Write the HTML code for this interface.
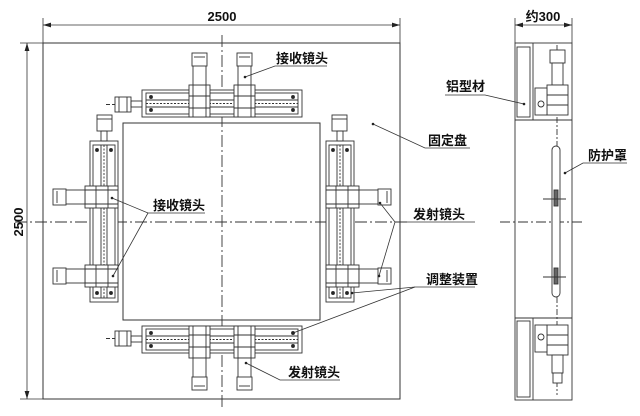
<!DOCTYPE html>
<html><head><meta charset="utf-8"><style>
html,body{margin:0;padding:0;background:#fff;width:640px;height:416px;overflow:hidden;}
svg{display:block;}
text{font-family:"Liberation Sans","Noto Sans CJK SC",sans-serif;font-weight:bold;font-size:13px;fill:#111;}
</style></head><body>
<svg width="640" height="416" viewBox="0 0 640 416" xmlns="http://www.w3.org/2000/svg">
<defs>
<marker id="ar" viewBox="0 0 10 6" refX="10" refY="3" markerWidth="10" markerHeight="6" orient="auto-start-reverse"><path d="M0,0 L10,3 L0,6z" fill="#222"/></marker>
<g id="lensH" fill="#fff" stroke="#333" stroke-width="0.9">
<rect x="0" y="-5" width="21" height="32"/>
<line x1="4" y1="-5" x2="4" y2="27"/><line x1="17" y1="-5" x2="17" y2="27"/>
<line x1="0" y1="6" x2="21" y2="6"/><line x1="0" y1="18" x2="21" y2="18"/>
<rect x="4" y="-25" width="13" height="20"/>
<rect x="3" y="-37" width="15" height="13"/>
<line x1="5" y1="-33" x2="16" y2="-33"/>
</g>
<g id="railH" stroke="#333" stroke-width="0.9" fill="none">
<rect x="0" y="0" width="160" height="27" fill="#fff"/>
<rect x="4" y="3" width="152" height="21"/>
<line x1="4" y1="10" x2="156" y2="10"/><line x1="4" y1="17" x2="156" y2="17"/>
<line x1="4" y1="13.5" x2="156" y2="13.5" stroke-dasharray="2 1.5"/>
<circle cx="9" cy="7" r="1.5" fill="#222"/><circle cx="9" cy="20" r="1.5" fill="#222"/>
<circle cx="151" cy="7" r="1.5" fill="#222"/><circle cx="151" cy="20" r="1.5" fill="#222"/>
<rect x="-27" y="7" width="16" height="15" fill="#fff"/>
<line x1="-23" y1="7" x2="-23" y2="22"/><line x1="-15" y1="7" x2="-15" y2="22"/>
<rect x="-11" y="11" width="11" height="6"/>
<line x1="-36" y1="14.5" x2="-27" y2="14.5" stroke-dasharray="4 2"/>
<use href="#lensH" x="47" y="0"/>
<use href="#lensH" x="92" y="0"/>
</g>
<g id="lensV" fill="#fff" stroke="#333" stroke-width="0.9">
<rect x="-5" y="0" width="33" height="22"/>
<line x1="-5" y1="4" x2="28" y2="4"/><line x1="-5" y1="18" x2="28" y2="18"/>
<line x1="6" y1="0" x2="6" y2="22"/><line x1="18" y1="0" x2="18" y2="22"/>
<rect x="-25" y="4" width="20" height="14"/>
<rect x="-37" y="3" width="13" height="16"/>
<line x1="-33" y1="5" x2="-33" y2="17"/>
</g>
<g id="railV" stroke="#333" stroke-width="0.9" fill="none">
<rect x="0" y="0" width="28" height="161" fill="#fff"/>
<rect x="3" y="4" width="22" height="153"/>
<line x1="11" y1="4" x2="11" y2="157"/><line x1="17" y1="4" x2="17" y2="157"/>
<line x1="14" y1="4" x2="14" y2="157" stroke-dasharray="2 1.5"/>
<circle cx="7" cy="9" r="1.5" fill="#222"/><circle cx="21" cy="9" r="1.5" fill="#222"/>
<circle cx="7" cy="152" r="1.5" fill="#222"/><circle cx="21" cy="152" r="1.5" fill="#222"/>
<rect x="7" y="-26" width="15" height="16" fill="#fff"/>
<line x1="7" y1="-22" x2="22" y2="-22"/>
<rect x="11" y="-10" width="6" height="10"/>
<use href="#lensV" x="0" y="45"/>
<use href="#lensV" x="0" y="124"/>
</g>
</defs>

<!-- main board -->
<rect x="43" y="43" width="357" height="356" fill="none" stroke="#333" stroke-width="1"/>
<rect x="123" y="123" width="197" height="197" fill="none" stroke="#333" stroke-width="1"/>
<line x1="222" y1="35" x2="222" y2="410" stroke="#333" stroke-width="0.9" stroke-dasharray="12 3 2 3"/>
<line x1="15" y1="222" x2="410" y2="222" stroke="#333" stroke-width="0.9" stroke-dasharray="12 3 2 3"/>

<use href="#railH" transform="translate(142,90)"/>
<use href="#railH" transform="translate(142,353) scale(1,-1)"/>
<use href="#railV" transform="translate(90,141)"/>
<use href="#railV" transform="translate(354,141) scale(-1,1)"/>

<!-- dimensions -->
<g stroke="#333" stroke-width="0.8">
<line x1="43" y1="18" x2="43" y2="43"/><line x1="400" y1="18" x2="400" y2="43"/>
<line x1="43" y1="25" x2="400" y2="25" marker-start="url(#ar)" marker-end="url(#ar)"/>
<line x1="20" y1="43" x2="43" y2="43"/><line x1="20" y1="399" x2="43" y2="399"/>
<line x1="27" y1="43" x2="27" y2="399" marker-start="url(#ar)" marker-end="url(#ar)"/>
<line x1="515" y1="18" x2="515" y2="43"/><line x1="572" y1="18" x2="572" y2="43"/>
<line x1="515" y1="25" x2="572" y2="25" marker-start="url(#ar)" marker-end="url(#ar)"/>
</g>
<text x="222" y="21" text-anchor="middle">2500</text>
<text x="23" y="222" text-anchor="middle" transform="rotate(-90 23 222)">2500</text>
<text x="543" y="21" text-anchor="middle">约300</text>

<!-- side view -->
<g stroke="#333" stroke-width="0.9" fill="none">
<rect x="515" y="43" width="57" height="357"/>
<line x1="515" y1="120" x2="572" y2="120"/><line x1="515" y1="318" x2="572" y2="318"/>
<line x1="533" y1="43" x2="533" y2="120"/><line x1="533" y1="318" x2="533" y2="400"/>
<rect x="517" y="47" width="13" height="70"/><rect x="517" y="321" width="13" height="76"/>
<line x1="557" y1="45" x2="557" y2="395" stroke-dasharray="6 2 2 2"/>
<line x1="500" y1="222" x2="583" y2="222" stroke-dasharray="10 3 2 3"/>
<rect x="550" y="50" width="15" height="13" fill="#fff"/>
<rect x="552" y="63" width="11" height="22" fill="#fff"/>
<rect x="547" y="85" width="21" height="30" fill="#fff"/>
<line x1="547" y1="95" x2="568" y2="95"/><line x1="547" y1="105" x2="568" y2="105"/>
<rect x="535" y="88" width="12" height="27" fill="#fff"/>
<circle cx="541" cy="104" r="3"/>
<rect x="547" y="325" width="21" height="30" fill="#fff"/>
<line x1="547" y1="335" x2="568" y2="335"/><line x1="547" y1="345" x2="568" y2="345"/>
<rect x="535" y="325" width="12" height="27" fill="#fff"/>
<circle cx="541" cy="337" r="3"/>
<rect x="552" y="355" width="11" height="18" fill="#fff"/>
<rect x="553" y="373" width="9" height="10" fill="#fff"/>
<rect x="552" y="146" width="8" height="151" rx="4" fill="#fff"/>
<rect x="554" y="190" width="4" height="16" fill="#666"/>
<rect x="554" y="268" width="4" height="16" fill="#666"/>
<line x1="543" y1="199" x2="566" y2="199"/><line x1="543" y1="277" x2="566" y2="277"/>
</g>

<!-- leaders -->
<g stroke="#333" stroke-width="0.8" fill="none">
<polyline points="245,77 275,66 327,66"/>
<polyline points="373,124 425,148 470,148"/>
<polyline points="112,198 148,213 205,213"/>
<line x1="113" y1="276" x2="148" y2="213"/>
<polyline points="380,203 395,222 475,222"/>
<line x1="379" y1="276" x2="395" y2="222"/>
<polyline points="352,293 415,287 475,287"/>
<line x1="293" y1="333" x2="415" y2="287"/>
<polyline points="246,363 280,380 340,380"/>
<polyline points="524,104 485,95 445,95"/>
<polyline points="565,173 583,163 627,163"/>
</g>
<g fill="#222">
<circle cx="245" cy="77" r="1.3"/><circle cx="373" cy="124" r="1.3"/>
<circle cx="112" cy="198" r="1.3"/><circle cx="113" cy="276" r="1.3"/>
<circle cx="380" cy="203" r="1.3"/><circle cx="379" cy="276" r="1.3"/>
<circle cx="352" cy="293" r="1.3"/><circle cx="293" cy="333" r="1.3"/>
<circle cx="246" cy="363" r="1.3"/><circle cx="524" cy="104" r="1.3"/>
<circle cx="565" cy="173" r="1.3"/>
</g>
<text x="276" y="63">接收镜头</text>
<text x="428" y="145">固定盘</text>
<text x="153" y="210">接收镜头</text>
<text x="413" y="219">发射镜头</text>
<text x="426" y="284">调整装置</text>
<text x="288" y="377">发射镜头</text>
<text x="446" y="91">铝型材</text>
<text x="588" y="160">防护罩</text>
</svg>
</body></html>
